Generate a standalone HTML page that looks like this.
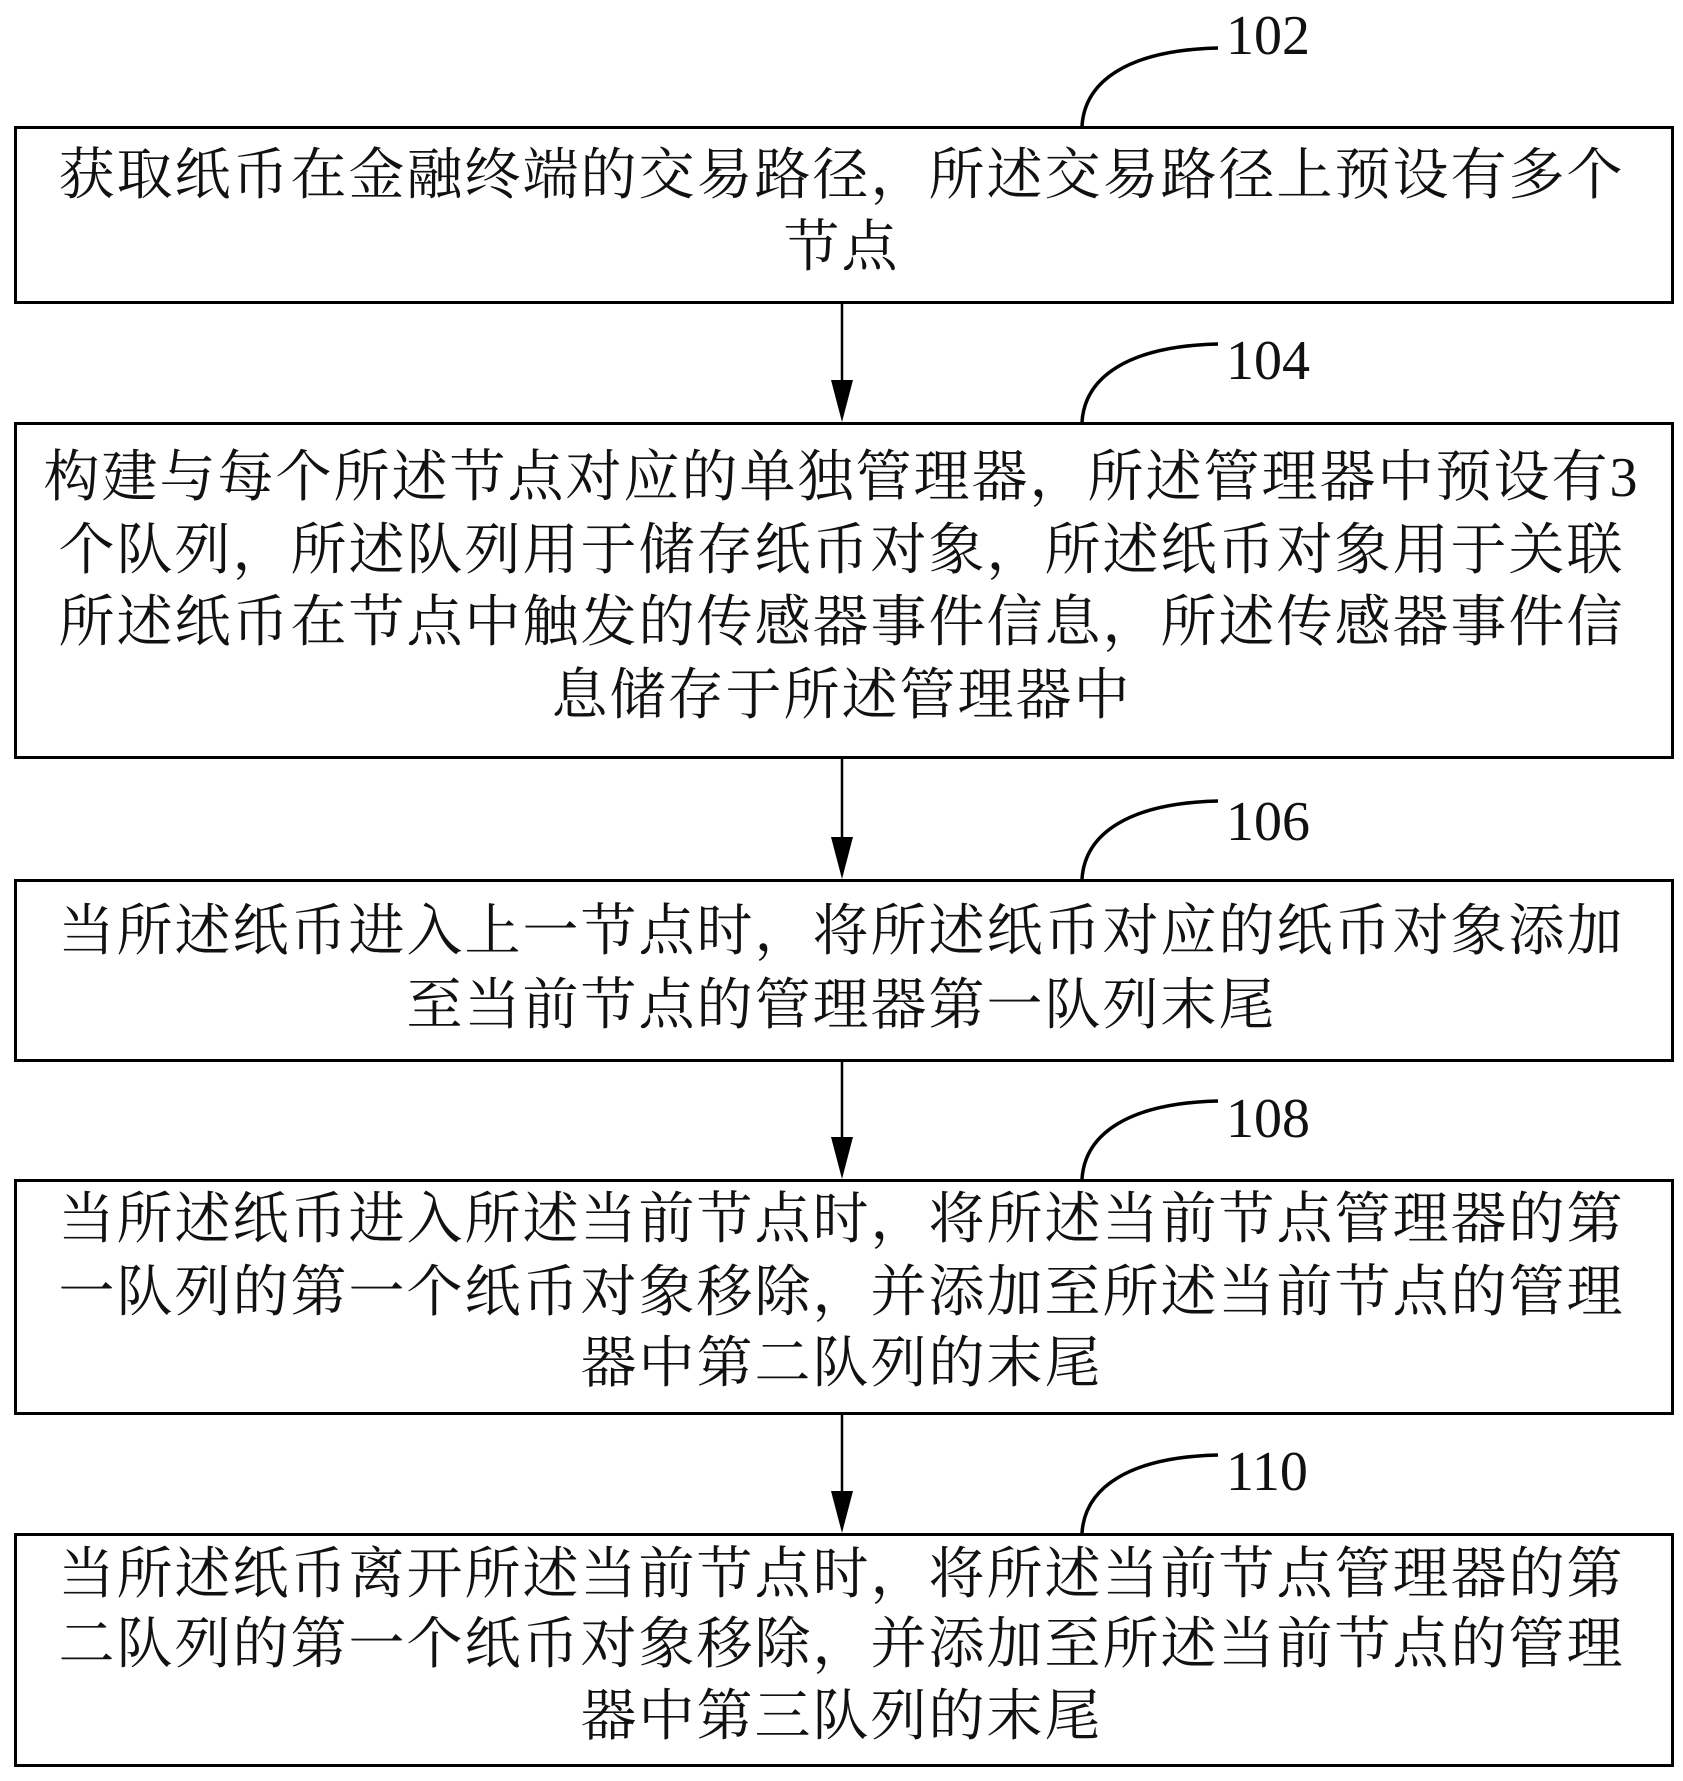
<!DOCTYPE html>
<html><head><meta charset="utf-8"><style>
body{margin:0;background:#fff;}
#c{position:relative;width:1683px;height:1781px;overflow:hidden;}
.box{position:absolute;left:14px;width:1660px;border:3px solid #000;box-sizing:border-box;}
.t{position:absolute;left:0;width:1683px;height:74px;line-height:74px;text-align:center;font-family:"Liberation Serif","Noto Serif CJK SC",serif;font-size:56px;letter-spacing:2px;color:#111;white-space:nowrap;}
.n{position:absolute;font-family:"Liberation Serif",serif;font-size:56px;color:#111;}
</style></head><body><div id="c">
<div class="box" style="top:126px;height:178px"></div>
<div class="box" style="top:422px;height:337px"></div>
<div class="box" style="top:879px;height:183px"></div>
<div class="box" style="top:1179px;height:236px"></div>
<div class="box" style="top:1533px;height:234px"></div>
<svg width="1683" height="1781" style="position:absolute;left:0;top:0">
<g stroke="#000" stroke-width="2.5" fill="none">
<line x1="842" y1="304" x2="842" y2="385"/>
<line x1="842" y1="759" x2="842" y2="842"/>
<line x1="842" y1="1062" x2="842" y2="1142"/>
<line x1="842" y1="1415" x2="842" y2="1496"/>
</g>
<g stroke="#000" stroke-width="3.5" fill="none">
<path d="M1082 126 C1085 80 1130 50 1218 48"/>
<path d="M1082 422 C1085 376 1130 346 1218 344"/>
<path d="M1082 879 C1085 833 1130 803 1218 801"/>
<path d="M1082 1179 C1085 1133 1130 1103 1218 1101"/>
<path d="M1082 1533 C1085 1487 1130 1457 1218 1455"/>
</g>
<g fill="#000">
<polygon points="831,380 853,380 842,422"/>
<polygon points="831,837 853,837 842,879"/>
<polygon points="831,1137 853,1137 842,1179"/>
<polygon points="831,1491 853,1491 842,1533"/>
</g></svg>
<div class="n" style="left:1226px;top:4px">102</div>
<div class="n" style="left:1226px;top:329px">104</div>
<div class="n" style="left:1226px;top:790px">106</div>
<div class="n" style="left:1226px;top:1087px">108</div>
<div class="n" style="left:1226px;top:1440px">110</div>
<div class="t" style="top:139px">获取纸币在金融终端的交易路径，所述交易路径上预设有多个</div>
<div class="t" style="top:211px">节点</div>
<div class="t" style="top:441px">构建与每个所述节点对应的单独管理器，所述管理器中预设有3</div>
<div class="t" style="top:514px">个队列，所述队列用于储存纸币对象，所述纸币对象用于关联</div>
<div class="t" style="top:586px">所述纸币在节点中触发的传感器事件信息，所述传感器事件信</div>
<div class="t" style="top:659px">息储存于所述管理器中</div>
<div class="t" style="top:895px">当所述纸币进入上一节点时，将所述纸币对应的纸币对象添加</div>
<div class="t" style="top:969px">至当前节点的管理器第一队列末尾</div>
<div class="t" style="top:1183px">当所述纸币进入所述当前节点时，将所述当前节点管理器的第</div>
<div class="t" style="top:1256px">一队列的第一个纸币对象移除，并添加至所述当前节点的管理</div>
<div class="t" style="top:1327px">器中第二队列的末尾</div>
<div class="t" style="top:1538px">当所述纸币离开所述当前节点时，将所述当前节点管理器的第</div>
<div class="t" style="top:1608px">二队列的第一个纸币对象移除，并添加至所述当前节点的管理</div>
<div class="t" style="top:1680px">器中第三队列的末尾</div>
</div></body></html>
